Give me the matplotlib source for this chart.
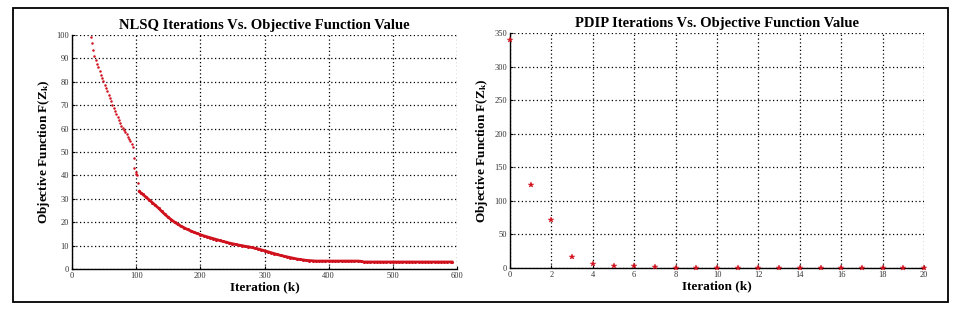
import numpy as np
import matplotlib
matplotlib.use("Agg")
import matplotlib.pyplot as plt
from matplotlib.patches import Rectangle

plt.rcParams['font.family'] = ['Liberation Serif', 'DejaVu Serif']
plt.rcParams['mathtext.fontset'] = 'custom'
plt.rcParams['mathtext.rm'] = 'Liberation Serif:bold'
plt.rcParams['mathtext.it'] = 'Liberation Serif:bold'
plt.rcParams['mathtext.bf'] = 'Liberation Serif:bold'

# ---- NLSQ data (iteration, objective value) ----
nlsq_iter_early = [29, 31, 33, 35, 37, 39, 41, 43, 45, 47, 49, 51, 53, 55, 57, 59, 61, 63,
                   65, 67, 69, 71, 73, 75, 77, 79, 81, 83, 85, 87, 89, 91, 93, 95,
                   96, 97, 99, 100, 101, 103, 104]
nlsq_val_early = [99.3, 96.5, 93.6, 91.0, 89.3, 87.8, 86.2, 84.5, 83.0, 81.6, 80.2, 78.8,
                  77.3, 75.9, 74.5, 73.1, 71.7, 70.2, 69.0, 67.6, 66.2, 64.9, 63.5, 62.2,
                  61.2, 60.3, 59.4, 58.4, 57.5, 56.5, 55.5, 54.5, 53.5, 52.0,
                  47.3, 43.0, 41.5, 40.8, 40.3, 36.6, 33.5]
nlsq_iter_late = [105, 107, 110, 115, 120, 125, 130, 135, 140, 145, 150, 155, 160, 165, 170,
                  175, 180, 185, 190, 195, 200, 205, 210, 215, 220, 225, 230, 235, 240, 245,
                  250, 255, 260, 265, 270, 275, 280, 285, 290, 295, 300, 305, 310, 315, 320,
                  325, 330, 335, 340, 345, 350, 355, 360, 365, 370, 375, 380, 385, 390, 395,
                  400, 405, 410, 415, 420, 425, 430, 435, 440, 445, 450, 455, 460, 465, 470,
                  475, 480, 485, 490, 495, 500, 505, 510, 515, 520, 525, 530, 535, 540, 545,
                  550, 555, 560, 565, 570, 575, 580, 585, 590, 592]
nlsq_val_late = [33.2, 32.6, 32.0, 30.8, 29.6, 28.4, 27.2, 26.0, 24.6, 23.3, 22.1, 21.0, 20.0,
                 19.1, 18.3, 17.6, 16.9, 16.3, 15.7, 15.2, 14.7, 14.2, 13.8, 13.4, 13.0, 12.6,
                 12.2, 11.8, 11.5, 11.1, 10.8, 10.5, 10.2, 10.0, 9.7, 9.5, 9.2, 8.9, 8.6, 8.2,
                 7.8, 7.4, 7.0, 6.6, 6.2, 5.8, 5.5, 5.2, 4.9, 4.6, 4.3, 4.1, 3.9, 3.7, 3.6,
                 3.5, 3.4, 3.4, 3.4, 3.4, 3.4, 3.4, 3.4, 3.4, 3.4, 3.4, 3.4, 3.4, 3.4, 3.4,
                 3.3, 3.0, 3.0, 3.0, 3.0, 3.0, 3.0, 3.0, 3.0, 3.0, 3.0, 3.0, 3.0, 3.0, 3.0,
                 3.0, 3.0, 3.0, 3.0, 3.0, 3.0, 3.0, 3.0, 3.0, 3.0, 3.0, 3.0, 3.0, 3.0, 3.0]

# ---- PDIP data ----
pdip_iter = list(range(0, 21))
pdip_val = [340, 124, 71, 16, 6, 3, 3, 1, 0.5, 0.5, 0.5, 0.5, 0.5, 0.5, 0.5, 0.5,
            0.5, 0.5, 0.5, 0.5, 0.5]

titles = ["NLSQ Iterations Vs. Objective Function Value",
          "PDIP Iterations Vs. Objective Function Value"]
xlabel = "Iteration (k)"
ylabel = r"Objective Function F($\mathrm{Z_k}$)"

W, H = 958, 309
fig = plt.figure(figsize=(W / 100, H / 100), dpi=100)

# outer frame
fig.patches.append(Rectangle((13 / W, 1 - 302 / H), (948 - 13) / W, (302 - 8) / H,
                             transform=fig.transFigure, fill=False, ec='black', lw=1.3))

red = '#d0121f'

def style(ax, xlim, ylim, xt, yt):
    ax.set_xlim(*xlim)
    ax.set_ylim(*ylim)
    ax.set_xticks(xt)
    ax.set_yticks(yt)
    ax.spines['top'].set_visible(False)
    ax.spines['right'].set_visible(False)
    ax.spines['left'].set_linewidth(1.0)
    ax.spines['bottom'].set_linewidth(1.0)
    ax.grid(True, linestyle=(0, (1, 2)), color='black', linewidth=0.9)
    ax.set_axisbelow(True)
    ax.tick_params(direction='in', length=2.5, width=0.8, labelsize=6, pad=2, colors='black')
    ax.set_xlabel(xlabel, fontsize=9.5, fontweight='bold', labelpad=1)
    ax.set_ylabel(ylabel, fontsize=9.5, fontweight='bold', labelpad=3)
    for t in ax.get_xticklabels() + ax.get_yticklabels():
        t.set_color('#333333')

ax1 = fig.add_axes([72 / W, 1 - 269 / H, (457 - 72) / W, (269 - 35) / H])
style(ax1, (0, 600), (0, 100), range(0, 601, 100), range(0, 101, 10))
ax1.plot(nlsq_iter_early, nlsq_val_early, linestyle='none', marker='o', markersize=1.8,
         color=red, markeredgewidth=0, clip_on=False)
ax1.plot(nlsq_iter_late, nlsq_val_late, linestyle='-', linewidth=2.0, marker='o',
         markersize=2.2, color=red, markeredgewidth=0, clip_on=False)
ax1.set_title(titles[0], fontsize=10.5, fontweight='bold', pad=4)

ax2 = fig.add_axes([510 / W, 1 - 268 / H, (924 - 510) / W, (268 - 33) / H])
style(ax2, (0, 20), (0, 350), range(0, 21, 2), range(0, 351, 50))
ax2.plot(pdip_iter, pdip_val, linestyle='none', marker='*', markersize=4,
         color=red, markeredgewidth=0.3, clip_on=False, zorder=3)
ax2.set_title(titles[1], fontsize=10.5, fontweight='bold', pad=4)

fig.savefig("out.png", dpi=100)
